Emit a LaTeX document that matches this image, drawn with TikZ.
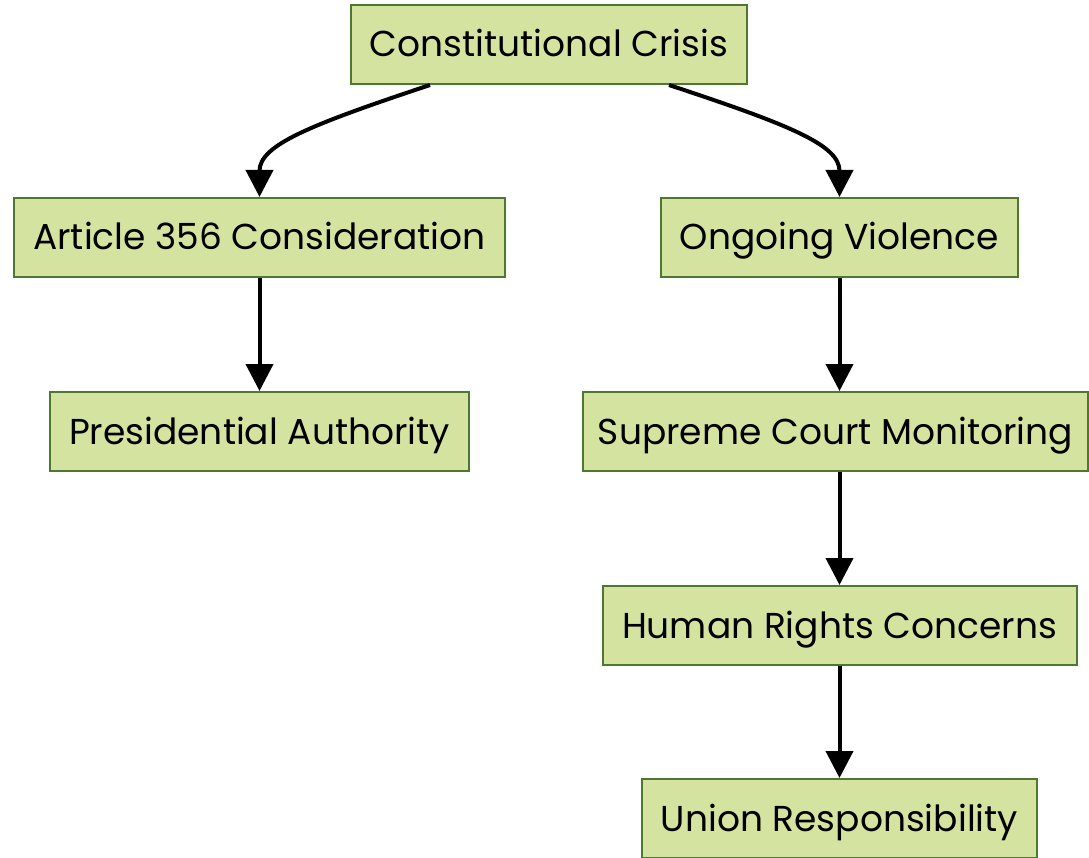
\documentclass[tikz,border=0pt]{standalone}
\usepackage{fontspec}
\setmainfont{Poppins}
\usetikzlibrary{arrows.meta,calc}
\definecolor{boxfill}{RGB}{212,227,160}
\definecolor{boxline}{RGB}{78,120,48}
\tikzset{
  box/.style={draw=boxline, line width=2pt, fill=boxfill, inner sep=0pt,
    minimum height=79pt, font=\fontsize{36}{40}\selectfont, text=black,
    text height=25pt, text depth=0pt},
  link/.style={line width=4pt, -{Triangle[length=27pt,width=27pt]}}
}
\begin{document}
\begin{tikzpicture}[x=1pt,y=-1pt]
\useasboundingbox (0,0) rectangle (1089,858);
\node[box, minimum width=396pt] (crisis) at (549,44.5) {Constitutional Crisis};
\node[box, minimum width=491pt] (art) at (259.5,237.5) {Article 356 Consideration};
\node[box, minimum width=357pt] (viol) at (839.5,237.5) {Ongoing Violence};
\node[box, minimum width=419pt] (pres) at (259.5,431.5) {Presidential Authority};
\node[box, minimum width=505pt] (sc) at (835.5,431.5) {Supreme Court Monitoring};
\node[box, minimum width=474pt] (hr) at (839.5,625.5) {Human Rights Concerns};
\node[box, minimum width=395pt] (union) at (839.5,818.5) {Union Responsibility};
\coordinate (c1) at ($(crisis.south)+(-119,0)$);
\coordinate (c2) at ($(crisis.south)+(120,0)$);
\draw[link] (c1) .. controls (310,125) and (259.5,145) .. (art.north);
\draw[link] (c2) .. controls (790,125) and (839.5,145) .. (viol.north);
\draw[link] (art.south) -- (pres.north);
\draw[link] (viol.south) -- (viol.south |- sc.north);
\draw[link] (viol.south |- sc.south) -- (hr.north);
\draw[link] (hr.south) -- (union.north);
\end{tikzpicture}
\end{document}
